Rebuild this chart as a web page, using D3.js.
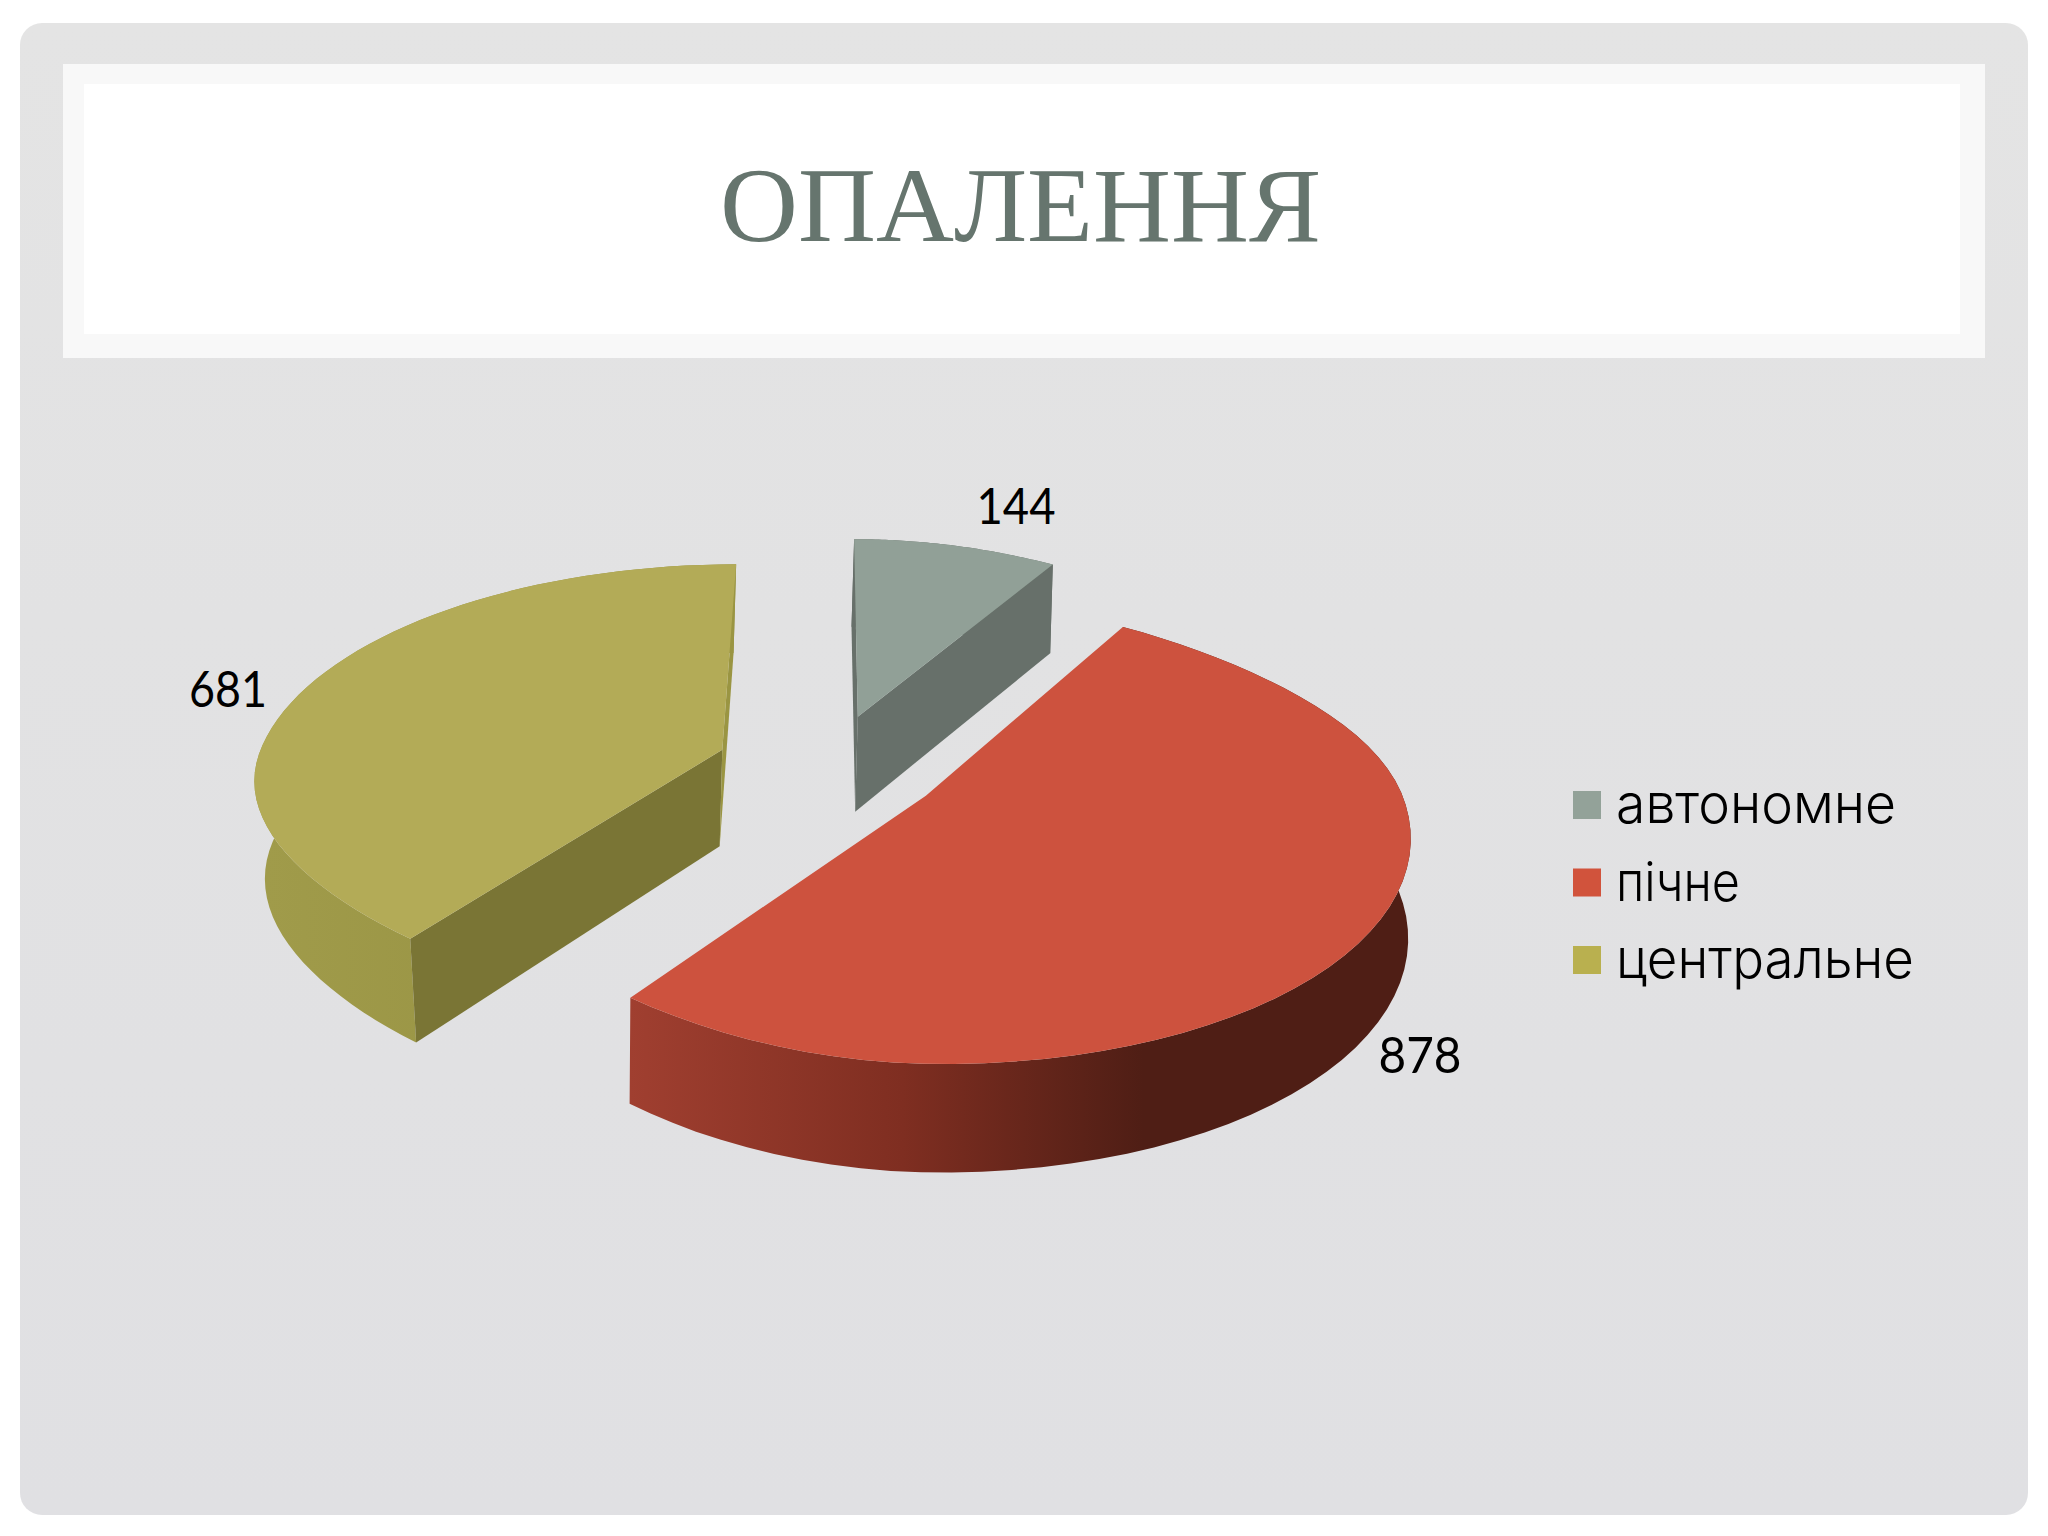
<!DOCTYPE html>
<html>
<head>
<meta charset="utf-8">
<script src="https://cdn.jsdelivr.net/npm/d3@7"></script>
<style>
  html, body { margin: 0; padding: 0; background: #fff; }
  svg { display: block; }
</style>
</head>
<body>
<div id="chart"></div>
<script>
// chart values
const title = "ОПАЛЕННЯ"
const categories = ["автономне", "пічне", "центральне"]
const values = [144, 878, 681]

// colours per slice
const topColors = ["#91a097", "#cd523e", "#b3ab57"]
const legendColors = ["#93a299", "#d1533c", "#b9b04f"]
const startWallColors = ["#67706a", "#5a2218", "#7a7535"]
const endWallColors = ["#67706a", "#5a2218", "#9a9542"]
const rimStops = [
  [[0, "#67706a"], [1, "#67706a"]],
  [[0, "#a03f30"], [0.35, "#7f2e21"], [0.66, "#4f1e15"], [1, "#4f1e15"]],
  [[0, "#a09b4a"], [1, "#948f40"]]
]

// layout of the tilted pie
const cx = 829, cy = 766
const rx = 467, ry = 218, persp = 0.151
const explode = 0.243, depth = 97, depthPow = 0.6
const squeeze = 0.035

const legendText = [280, 124, 298]
const labelAnchor = [[1016, 524], [1420, 1073], [228, 707]]
const labelText = [79, 83, 78]

const svg = d3.select("#chart").append("svg")
  .attr("width", 2048).attr("height", 1536)
const defs = svg.append("defs")

// background panel and title band
const panelFill = defs.append("linearGradient").attr("id", "panel")
  .attr("x1", 0).attr("x2", 0).attr("y1", 0).attr("y2", 1)
panelFill.append("stop").attr("offset", 0).attr("stop-color", "#e4e4e4")
panelFill.append("stop").attr("offset", 0.4).attr("stop-color", "#e2e2e3")
panelFill.append("stop").attr("offset", 1).attr("stop-color", "#e0e0e3")
svg.append("rect").attr("x", 20).attr("y", 23).attr("width", 2008).attr("height", 1492)
  .attr("rx", 22).attr("fill", "url(#panel)")
svg.append("rect").attr("x", 63).attr("y", 64).attr("width", 1922).attr("height", 294)
  .attr("fill", "#f8f8f8")
svg.append("rect").attr("x", 84).attr("y", 84).attr("width", 1876).attr("height", 250)
  .attr("fill", "#ffffff")
svg.append("text").attr("x", 720).attr("y", 241)
  .attr("font-family", "Liberation Serif").attr("font-size", 105)
  .attr("textLength", 601).attr("lengthAdjust", "spacingAndGlyphs")
  .attr("fill", "#66756e").text(title)

// disk coordinates (x to the right, y away from the viewer) to the screen
function project(px, py, lower) {
  const w = 1 + persp * py
  let x = cx + px * rx / w
  let y = cy - py * ry / w
  if (lower) {
    y += depth / Math.pow(w, depthPow)
    // lower rim drifts in on the left side only
    x += -2.6 + 0.03 * Math.max(0, 692 - x)
  }
  return [x, y]
}

// the reference disk is a bit flatter on the upper right and lower left
function rimRadius(a) {
  const t = Math.max(0, Math.sin(2 * a))
  return 1 - squeeze * t * t
}

const slices = d3.pie().sort(null)(values)
const line = d3.line()

slices.forEach(function (s, i) {
  const mid = (s.startAngle + s.endAngle) / 2
  const ox = explode * Math.sin(mid), oy = explode * Math.cos(mid)

  const rimAngles = d3.range(0, 61).map(k => s.startAngle + (s.endAngle - s.startAngle) * k / 60)
  const rimPoint = (a, lower) => project(ox + rimRadius(a) * Math.sin(a), oy + rimRadius(a) * Math.cos(a), lower)
  const rimTop = rimAngles.map(a => rimPoint(a, false))
  const rimLow = rimAngles.map(a => rimPoint(a, true))
  const apexTop = project(ox, oy, false)
  const apexLow = project(ox, oy, true)

  const g = svg.append("g").attr("class", "slice")

  // outer wall
  const grad = defs.append("linearGradient").attr("id", "rim" + i)
    .attr("gradientUnits", "userSpaceOnUse")
    .attr("x1", d3.min(rimLow, d => d[0])).attr("x2", d3.max(rimLow, d => d[0]))
    .attr("y1", 0).attr("y2", 0)
  rimStops[i].forEach(st => grad.append("stop").attr("offset", st[0]).attr("stop-color", st[1]))
  g.append("path")
    .attr("d", line(rimTop.concat(rimLow.slice().reverse())) + "Z")
    .attr("fill", "url(#rim" + i + ")")

  // flat walls, only the ones that run leftward on screen face the viewer
  const n = rimTop.length - 1
  const edges = [
    [apexTop, rimTop[0], apexLow, rimLow[0], startWallColors[i]],
    [rimTop[n], apexTop, rimLow[n], apexLow, endWallColors[i]]
  ]
  edges.forEach(function (e) {
    if (e[1][0] < e[0][0]) {
      g.append("path")
        .attr("d", line([e[0], e[1], e[3], e[2]]) + "Z")
        .attr("fill", e[4])
    }
  })

  // top face
  g.append("path")
    .attr("d", line([apexTop].concat(rimTop)) + "Z")
    .attr("fill", topColors[i])

  // value label
  svg.append("text")
    .attr("x", labelAnchor[i][0]).attr("y", labelAnchor[i][1])
    .attr("text-anchor", "middle")
    .attr("font-family", "Lato, Inter, sans-serif").attr("font-size", 50)
    .attr("textLength", labelText[i]).attr("lengthAdjust", "spacingAndGlyphs")
    .attr("fill", "#000").text(values[i])
})

// legend
const legendY = d3.scalePoint().domain(categories).range([791, 946])
const legend = svg.append("g").selectAll("g").data(categories).join("g")
legend.append("rect")
  .attr("x", 1573).attr("y", d => legendY(d))
  .attr("width", 28).attr("height", 28)
  .attr("fill", (d, i) => legendColors[i])
legend.append("text")
  .attr("x", 1616).attr("y", d => legendY(d) + 32)
  .attr("font-family", "Inter, sans-serif").attr("font-size", 54).attr("font-weight", 300)
  .attr("textLength", (d, i) => legendText[i]).attr("lengthAdjust", "spacingAndGlyphs")
  .attr("fill", "#000").text(d => d)
</script>
</body>
</html>
